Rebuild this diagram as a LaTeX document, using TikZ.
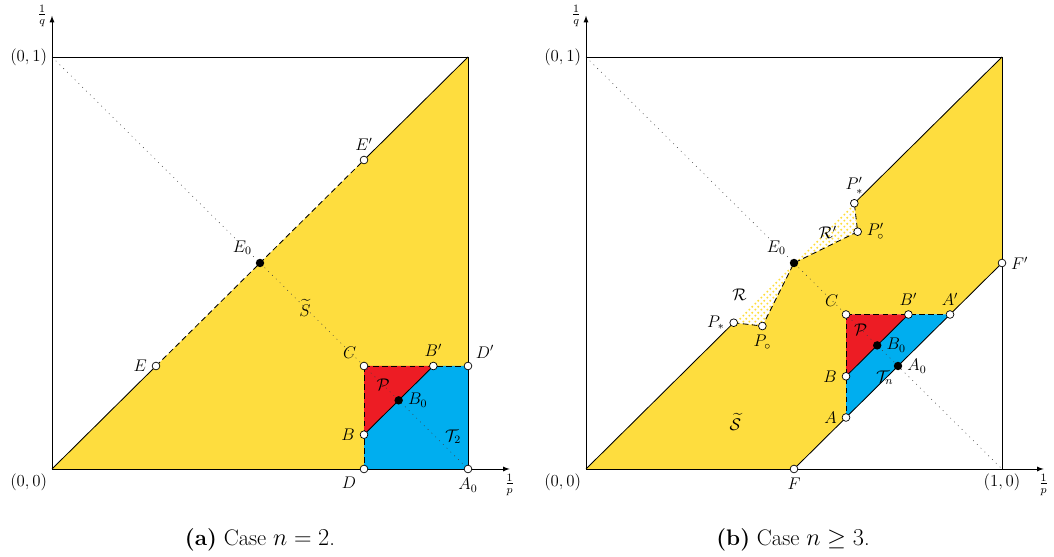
\documentclass[tikz,border=0pt]{standalone}
\usepackage{amsmath}
\usepackage{amssymb}
\usetikzlibrary{patterns}
\definecolor{ylw}{RGB}{254,221,62}
\definecolor{rd}{RGB}{237,28,36}
\definecolor{bl}{RGB}{0,174,239}
\pgfdeclarepatternformonly{ydots}{\pgfqpoint{-1pt}{-1pt}}{\pgfqpoint{3.2pt}{3.2pt}}{\pgfqpoint{4.2pt}{4.2pt}}{%
  \pgfpathcircle{\pgfqpoint{0pt}{0pt}}{0.8pt}%
  \pgfpathcircle{\pgfqpoint{2.1pt}{2.1pt}}{0.8pt}%
  \pgfusepath{fill}}

\begin{document}
\begin{tikzpicture}[>=latex, font=\large,
  opn/.style={circle, draw, fill=white, inner sep=0pt, minimum size=5.5pt, line width=0.5pt},
  cls/.style={circle, fill=black, inner sep=0pt, minimum size=6pt},
  edge/.style={line width=0.6pt},
  dsh/.style={line width=0.6pt, dash pattern=on 4pt off 2.5pt},
  dtd/.style={black!75, dash pattern=on 0.6pt off 3.2pt}]
\useasboundingbox (0,0) rectangle (26.35,13.925);

% (a) case n = 2
\begin{scope}[shift={(1.3,2.2)}, x=10.4cm, y=10.3cm]
  \coordinate (aO) at (0,0);
  \coordinate (aX) at (1.1,0);
  \coordinate (aY) at (0,1.1);
  \coordinate (aT) at (0,1);
  \coordinate (aR) at (1,1);
  \coordinate (aA0) at (1,0);
  \coordinate (aE) at (0.25,0.25);
  \coordinate (aE0) at (0.5,0.5);
  \coordinate (aEp) at (0.75,0.75);
  \coordinate (aC) at (0.75,0.25);
  \coordinate (aB) at (0.75,1/12);
  \coordinate (aBp) at (11/12,0.25);
  \coordinate (aB0) at (5/6,1/6);
  \coordinate (aD) at (0.75,0);
  \coordinate (aDp) at (1,0.25);

  \fill[ylw] (aO) -- (aR) -- (aDp) -- (aC) -- (aD) -- cycle;
  \fill[rd] (aC) -- (aB) -- (aBp) -- cycle;
  \fill[bl] (aB) -- (aD) -- (aA0) -- (aDp) -- (aBp) -- cycle;

  \draw[edge] (aO) -- (aE);
  \draw[dsh] (aE) -- (aEp);
  \draw[edge] (aEp) -- (aR);
  \draw[edge] (aT) -- (aR) -- (aA0);
  \draw[edge] (aB) -- (aBp);
  \draw[dsh] (aC) -- (aD);
  \draw[dsh] (aC) -- (aBp) -- (aDp);
  \draw[dtd] (aT) -- (aA0);

  \draw[edge,->] (aO) -- (aX) node (apl) [below] {$\frac{1}{p}$};
  \draw[edge,->] (aO) -- (aY) node (aql) [left] {$\frac{1}{q}$};
  \node (a00) [below left] at (aO) {$(0,0)$};
  \node (a01) [left] at (aT) {$(0,1)$};

  \node (aSl) at (0.608,0.391) {$\widetilde{S}$};
  \node (aPl) at (0.796,0.204) {$\mathcal{P}$};
  \node (aTl) at (0.964,0.078) {$\mathcal{T}_2$};

  \node[opn, label={left:$E$}] (nE) at (aE) {};
  \node[opn, label={above:$E'$}] (nEp) at (aEp) {};
  \node[cls, label={above left:$E_0$}] (nE0) at (aE0) {};
  \node[opn, label={above left:$C$}] (nC) at (aC) {};
  \node[opn, label={left:$B$}] (nB) at (aB) {};
  \node[opn, label={above:$B'$}] (nBp) at (aBp) {};
  \node[cls, label={right:$B_0$}] (nB0) at (aB0) {};
  \node[opn, label={above right:$D'$}] (nDp) at (aDp) {};
  \node[opn, label={below left:$D$}] (nD) at (aD) {};
  \node[opn, label={below:$A_0$}] (nA0) at (aA0) {};
\end{scope}

% (b) case n >= 3
\begin{scope}[shift={(14.65,2.2)}, x=10.4cm, y=10.3cm]
  \coordinate (bO) at (0,0);
  \coordinate (bX) at (1.1,0);
  \coordinate (bY) at (0,1.1);
  \coordinate (bT) at (0,1);
  \coordinate (bR) at (1,1);
  \coordinate (bW) at (1,0);
  \coordinate (bF) at (0.5,0);
  \coordinate (bFp) at (1,0.5);
  \coordinate (bA) at (0.625,0.125);
  \coordinate (bAp) at (0.875,0.375);
  \coordinate (bC) at (0.625,0.375);
  \coordinate (bB) at (0.625,0.225);
  \coordinate (bBp) at (0.775,0.375);
  \coordinate (bB0) at (0.7,0.3);
  \coordinate (bA0) at (0.75,0.25);
  \coordinate (bE0) at (0.5,0.5);
  \coordinate (bPs) at (0.355,0.355);
  \coordinate (bPo) at (0.424,0.347);
  \coordinate (bPsp) at (0.645,0.645);
  \coordinate (bPop) at (0.653,0.576);

  \fill[ylw] (bO) -- (bF) -- (bA) -- (bC) -- (bAp) -- (bFp) -- (bR)
    -- (bPsp) -- (bPop) -- (bE0) -- (bPo) -- (bPs) -- cycle;
  \fill[rd] (bC) -- (bB) -- (bBp) -- cycle;
  \fill[bl] (bB) -- (bA) -- (bAp) -- (bBp) -- cycle;
  \fill[pattern=ydots, pattern color=ylw] (bPs) -- (bPo) -- (bE0) -- cycle;
  \fill[pattern=ydots, pattern color=ylw] (bE0) -- (bPop) -- (bPsp) -- cycle;

  \draw[edge] (bO) -- (bPs);
  \draw[edge] (bPsp) -- (bR);
  \draw[edge] (bT) -- (bR) -- (bW);
  \draw[edge] (bF) -- (bFp);
  \draw[edge] (bB) -- (bBp);
  \draw[dsh] (bPs) -- (bPo) -- (bE0) -- (bPop) -- (bPsp);
  \draw[dsh] (bC) -- (bA);
  \draw[dsh] (bC) -- (bAp);
  \draw[dtd] (bT) -- (bW);

  \draw[edge,->] (bO) -- (bX) node (bpl) [below] {$\frac{1}{p}$};
  \draw[edge,->] (bO) -- (bY) node (bql) [left] {$\frac{1}{q}$};
  \node (b00) [below left] at (bO) {$(0,0)$};
  \node (b01) [left] at (bT) {$(0,1)$};
  \node (b10) [below] at (bW) {$(1,0)$};

  \node (bSl) at (0.359,0.114) {$\widetilde{\mathcal{S}}$};
  \node (bPl) at (0.66,0.337) {$\mathcal{P}$};
  \node (bTl) at (0.718,0.221) {$\mathcal{T}_n$};
  \node (bRl) at (0.369,0.422) {$\mathcal{R}$};
  \node (bRpl) at (0.581,0.575) {$\mathcal{R}'$};

  \node[opn, label={below:$F$}] (nF) at (bF) {};
  \node[opn, label={right:$F'$}] (nFp) at (bFp) {};
  \node[opn, label={left:$A$}] (nA) at (bA) {};
  \node[opn, label={above:$A'$}] (nAp) at (bAp) {};
  \node[opn, label={above left:$C$}] (nbC) at (bC) {};
  \node[opn, label={left:$B$}] (nbB) at (bB) {};
  \node[opn, label={above:$B'$}] (nbBp) at (bBp) {};
  \node[cls, label={right:$B_0$}] (nbB0) at (bB0) {};
  \node[cls, label={right:$A_0$}] (nbA0) at (bA0) {};
  \node[cls, label={above left:$E_0$}] (nbE0) at (bE0) {};
  \node[opn, label={left:$P_*$}] (nPs) at (bPs) {};
  \node[opn, label={below:$P_\circ$}] (nPo) at (bPo) {};
  \node[opn, label={above:$P'_*$}] (nPsp) at (bPsp) {};
  \node[opn, label={right:$P'_\circ$}] (nPop) at (bPop) {};
\end{scope}

\node (capa) at (6.5,0.425) {\fontsize{16}{19}\selectfont\textbf{(a)} Case $n=2$.};
\node (capb) at (19.825,0.425) {\fontsize{16}{19}\selectfont\textbf{(b)} Case $n\geq3$.};
\end{tikzpicture}
\end{document}
